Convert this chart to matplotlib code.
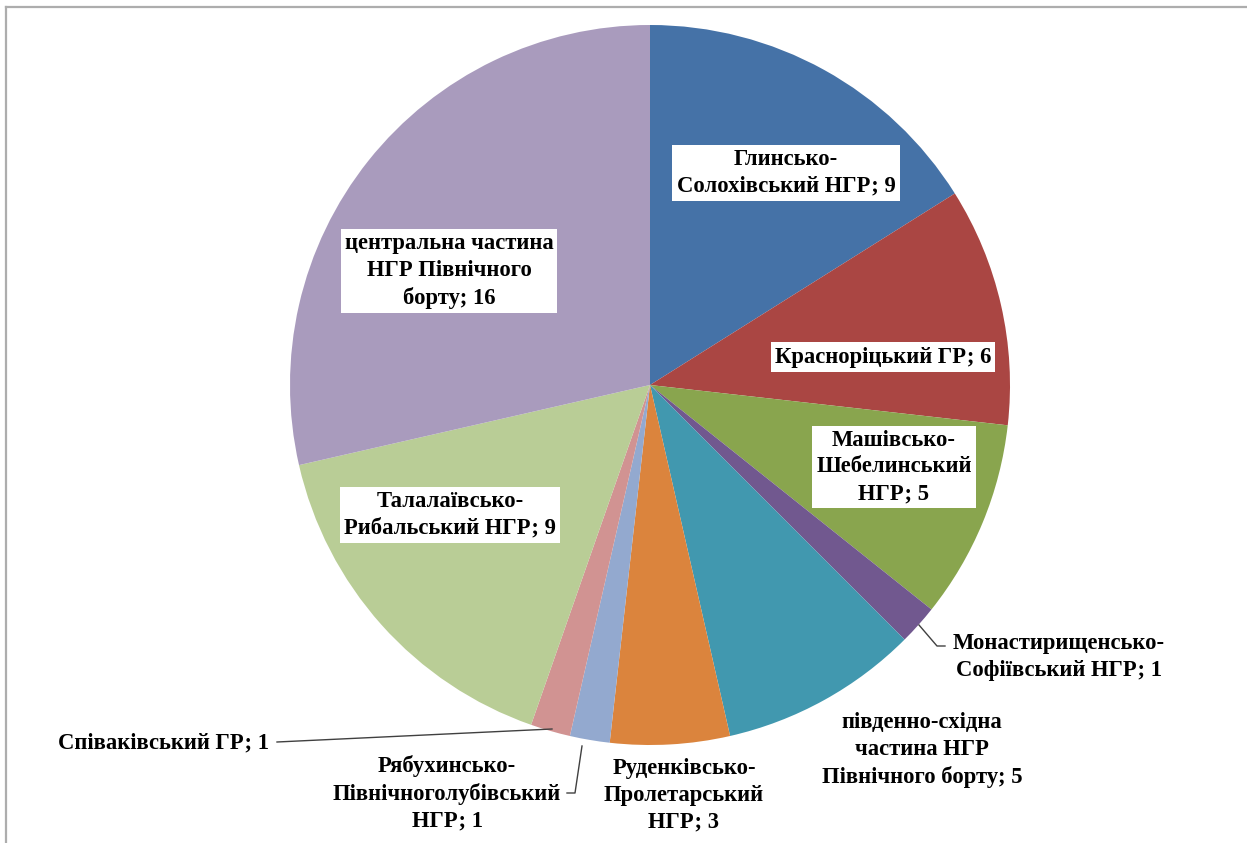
import matplotlib
matplotlib.use("Agg")
import matplotlib.pyplot as plt
from matplotlib.lines import Line2D

categories = [
    "Глинсько-\nСолохівський НГР; 9",
    "Красноріцький ГР; 6",
    "Машівсько-\nШебелинський\nНГР; 5",
    "Монастирищенсько-\nСофіївський НГР; 1",
    "південно-східна\nчастина НГР\nПівнічного борту; 5",
    "Руденківсько-\nПролетарський\nНГР; 3",
    "Рябухинсько-\nПівнічноголубівський\nНГР; 1",
    "Співаківський ГР; 1",
    "Талалаївсько-\nРибальський НГР; 9",
    "центральна частина\nНГР Північного\nборту; 16",
]
values = [9, 6, 5, 1, 5, 3, 1, 1, 9, 16]
colors = ["#4572A7", "#AA4643", "#89A54E", "#71588F", "#4198AF",
          "#DB843D", "#93A9CF", "#D19392", "#B9CD96", "#A99BBD"]

W, H = 1247, 843
fig = plt.figure(figsize=(W / 100, H / 100), dpi=100)
ax = fig.add_axes([0, 0, 1, 1])

cx, cy, R = 650, H - 385, 360
ax.pie(values, colors=colors, startangle=90, counterclock=False,
       center=(cx, cy), radius=R, wedgeprops=dict(linewidth=0))
ax.set_xlim(0, W)
ax.set_ylim(0, H)
ax.set_aspect("equal")
ax.axis("off")

font = dict(family="Liberation Serif", fontweight="bold", fontsize=16.3,
            ha="center", va="center", linespacing=1.36, color="black")

# label positions (pixel coords from top-left), boxed flag
label_pos = [
    (786, 173, True),
    (883, 357, True),
    (894, 467, True),
    (1059, 657, False),
    (922, 750, False),
    (684, 795, False),
    (447, 793, False),
    (163, 743, False),
    (450, 515, True),
    (449, 271, True),
]

for txt, (x, y, boxed) in zip(categories, label_pos):
    kw = dict(font)
    if boxed:
        kw["bbox"] = dict(facecolor="white", edgecolor="none", pad=3)
    ax.text(x, H - y, txt, **kw)

# leader lines
lc = "#404040"
ax.add_line(Line2D([919, 937, 945], [H - 625, H - 646, H - 646], color=lc, lw=1))
ax.add_line(Line2D([582, 575, 567], [H - 746, H - 793, H - 793], color=lc, lw=1))
ax.add_line(Line2D([552, 277], [H - 729, H - 742], color=lc, lw=1))

# outer frame (top and left visible)
fig.add_artist(Line2D([6 / W, 1], [1 - 7 / H, 1 - 7 / H], transform=fig.transFigure,
                      color="#ADADAD", lw=1.6))
fig.add_artist(Line2D([6 / W, 6 / W], [0, 1 - 7 / H], transform=fig.transFigure,
                      color="#ADADAD", lw=1.6))

fig.savefig("out.png", dpi=100)
